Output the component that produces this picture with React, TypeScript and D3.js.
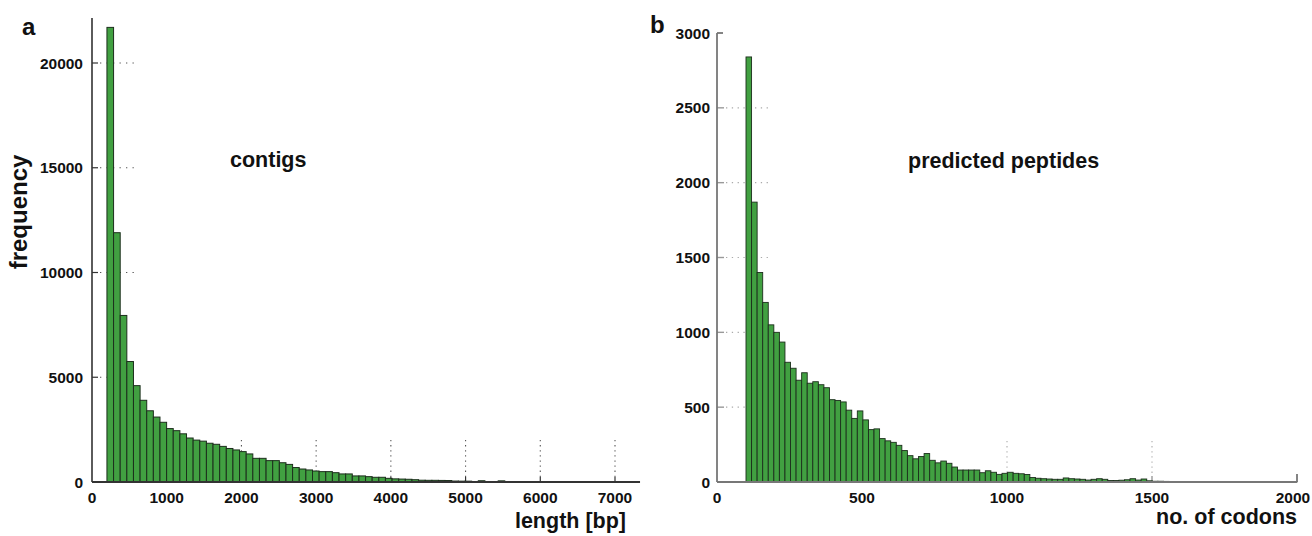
import React from "react";
import * as d3 from "d3";

// ---------- data ----------
// panel a: contig length histogram (bins from 200 to 7300 bp)
const contigBinStart = 200;
const contigBinEnd = 7300;
const contigCounts = [
  21700, 11900, 7950, 5750, 4600, 3900, 3400, 3100, 2850, 2550,
  2450, 2300, 2100, 2000, 1950, 1850, 1800, 1700, 1600, 1530,
  1450, 1340, 1130, 1130, 1020, 1020, 920, 840, 690, 620,
  575, 525, 495, 495, 445, 385, 385, 290, 290, 255,
  225, 225, 175, 150, 140, 130, 110, 85, 80, 80,
  75, 70, 45, 40, 40, 15, 60, 15, 10, 55,
  10, 12, 10, 10, 12, 10, 10, 8, 10, 8,
  10, 0, 10, 12, 0, 8, 8, 8, 8, 8,
];
const contigYTicks = [0, 5000, 10000, 15000, 20000];
const contigXTicks = [0, 1000, 2000, 3000, 4000, 5000, 6000, 7000];

// panel b: predicted peptide length histogram (bins from 100 to 2000 codons)
const pepBinStart = 100;
const pepBinEnd = 2000;
const pepCounts = [
  2840, 1870, 1400, 1200, 1050, 1000, 935, 800, 760, 680,
  730, 660, 670, 650, 630, 550, 545, 535, 480, 425,
  475, 415, 350, 355, 290, 275, 265, 245, 210, 176,
  155, 170, 190, 145, 128, 140, 125, 100, 80, 80,
  80, 80, 62, 75, 65, 51, 58, 65, 58, 55,
  50, 30, 25, 22, 20, 18, 18, 27, 22, 20,
  18, 13, 18, 22, 18, 10, 10, 12, 15, 22,
  13, 20, 8, 5, 5, 4, 3, 3, 3, 3,
  3, 3, 0, 3, 3, 3, 3, 3, 0, 3,
  0, 3, 3, 3, 3, 3, 3, 3, 3,
];
const pepYTicks = [0, 500, 1000, 1500, 2000, 2500, 3000];
const pepXTicks = [0, 500, 1000, 1500, 2000];

// ---------- styles ----------
const FONT = "'Liberation Sans', Arial, Helvetica, sans-serif";
const GREEN = "#41a041";
const BAR_STROKE = "#1c2e1c";

type Bin = { x0: number; x1: number; v: number };
function makeBins(start: number, end: number, counts: number[]): Bin[] {
  const w = (end - start) / counts.length;
  return counts.map((v, i) => ({ x0: start + i * w, x1: start + (i + 1) * w, v }));
}

export default function App() {
  // panel a scales
  const ax = d3.scaleLinear().domain([0, 7000]).range([92, 615]);
  const ay = d3.scaleLinear().domain([0, 20000]).range([482, 63]);
  const aXMax = 7335;
  const aYMax = 22150;
  const aBins = makeBins(contigBinStart, contigBinEnd, contigCounts);

  // panel b scales
  const bx = d3.scaleLinear().domain([0, 2000]).range([717, 1297]);
  const by = d3.scaleLinear().domain([0, 3000]).range([482, 33]);
  const bBins = makeBins(pepBinStart, pepBinEnd, pepCounts);

  const tickFont = { fontFamily: FONT, fontWeight: 700, fontSize: 15.5, fill: "#111" } as const;
  const titleFont = { fontFamily: FONT, fontWeight: 700, fontSize: 21.5, fill: "#111" } as const;

  return (
    <svg
      width={1312}
      height={536}
      style={{ position: "absolute", left: 0, top: 0, background: "#fff" }}
    >
      {/* ---------------- panel a ---------------- */}
      <g>
        {contigYTicks.filter((t) => t > 0).map((t) => (
          <g key={"ay" + t}>
            <line x1={ax(0)} x2={ax(0) + 6} y1={ay(t)} y2={ay(t)} stroke="#333" strokeWidth={1.2} />
            <line x1={ax(0) + 8} x2={135} y1={ay(t)} y2={ay(t)} stroke="#555" strokeWidth={1.1} strokeDasharray="1.3,5.2" />
          </g>
        ))}
        {contigXTicks.filter((t) => t > 0).map((t) => (
          <g key={"ax" + t}>
            <line x1={ax(t)} x2={ax(t)} y1={ay(0)} y2={ay(0) - 5} stroke="#333" strokeWidth={1.2} />
            <line x1={ax(t)} x2={ax(t)} y1={440} y2={ay(0) - 5} stroke="#555" strokeWidth={1.1} strokeDasharray="1.3,3.8" />
          </g>
        ))}
        {aBins.map((b, i) =>
          b.v > 0 ? (
            <rect
              key={"ab" + i}
              x={ax(b.x0)}
              y={ay(b.v)}
              width={ax(b.x1) - ax(b.x0)}
              height={ay(0) - ay(b.v)}
              fill={GREEN}
              stroke={BAR_STROKE}
              strokeWidth={1}
            />
          ) : null
        )}
        <line x1={ax(0)} x2={ax(0)} y1={ay(aYMax)} y2={ay(0)} stroke="#333" strokeWidth={1.6} />
        <line x1={ax(0)} x2={ax(aXMax)} y1={ay(0)} y2={ay(0)} stroke="#333" strokeWidth={1.8} />
        {contigYTicks.map((t) => (
          <text key={"ayl" + t} x={83} y={ay(t)} dy="0.36em" textAnchor="end" style={tickFont}>
            {t}
          </text>
        ))}
        {contigXTicks.map((t) => (
          <text key={"axl" + t} x={ax(t)} y={503} textAnchor="middle" style={tickFont}>
            {t}
          </text>
        ))}
        <text x={22} y={35} style={{ ...titleFont, fontSize: 24 }}>a</text>
        <text x={230} y={167} style={titleFont}>contigs</text>
        <text x={626} y={528} textAnchor="end" style={titleFont}>length [bp]</text>
        <text
          transform={`translate(27,212) rotate(-90)`}
          textAnchor="middle"
          style={{ ...titleFont, fontSize: 24 }}
        >
          frequency
        </text>
      </g>

      {/* ---------------- panel b ---------------- */}
      <g>
        {pepYTicks.filter((t) => t > 0 && t < 3000).map((t) => (
          <g key={"by" + t}>
            <line x1={bx(0)} x2={bx(0) + 7} y1={by(t)} y2={by(t)} stroke="#999" strokeWidth={1.4} />
            <line x1={bx(0) + 9} x2={770} y1={by(t)} y2={by(t)} stroke="#aaa" strokeWidth={1.1} strokeDasharray="1.3,4.5" />
          </g>
        ))}
        {pepXTicks.filter((t) => t > 0 && t < 2000).map((t) => (
          <g key={"bx" + t}>
            <line x1={bx(t)} x2={bx(t)} y1={by(0)} y2={by(0) - 6} stroke="#999" strokeWidth={1.4} />
            <line x1={bx(t)} x2={bx(t)} y1={441} y2={by(0) - 6} stroke="#aaa" strokeWidth={1.1} strokeDasharray="1.3,3.8" />
          </g>
        ))}
        {bBins.map((b, i) =>
          b.v > 0 ? (
            <rect
              key={"bb" + i}
              x={bx(b.x0)}
              y={by(b.v)}
              width={bx(b.x1) - bx(b.x0)}
              height={by(0) - by(b.v)}
              fill={GREEN}
              stroke={BAR_STROKE}
              strokeWidth={0.9}
            />
          ) : null
        )}
        <line x1={bx(0)} x2={bx(0)} y1={by(3000)} y2={by(0)} stroke="#777" strokeWidth={1.8} />
        <line x1={bx(0)} x2={bx(0) + 6} y1={by(3000)} y2={by(3000)} stroke="#777" strokeWidth={1.8} />
        <line x1={bx(0)} x2={bx(2000)} y1={by(0)} y2={by(0)} stroke="#777" strokeWidth={1.8} />
        <line x1={bx(2000)} x2={bx(2000)} y1={by(0)} y2={by(0) - 8} stroke="#777" strokeWidth={1.8} />
        {pepYTicks.map((t) => (
          <text key={"byl" + t} x={710} y={by(t)} dy="0.36em" textAnchor="end" style={tickFont}>
            {t}
          </text>
        ))}
        {pepXTicks.map((t) => (
          <text
            key={"bxl" + t}
            x={Math.min(bx(t), 1293)}
            y={503}
            textAnchor="middle"
            style={tickFont}
          >
            {t}
          </text>
        ))}
        <text x={650} y={33} style={{ ...titleFont, fontSize: 24 }}>b</text>
        <text x={908} y={168} style={titleFont}>predicted peptides</text>
        <text x={1297} y={524} textAnchor="end" style={titleFont}>no. of codons</text>
      </g>
    </svg>
  );
}
